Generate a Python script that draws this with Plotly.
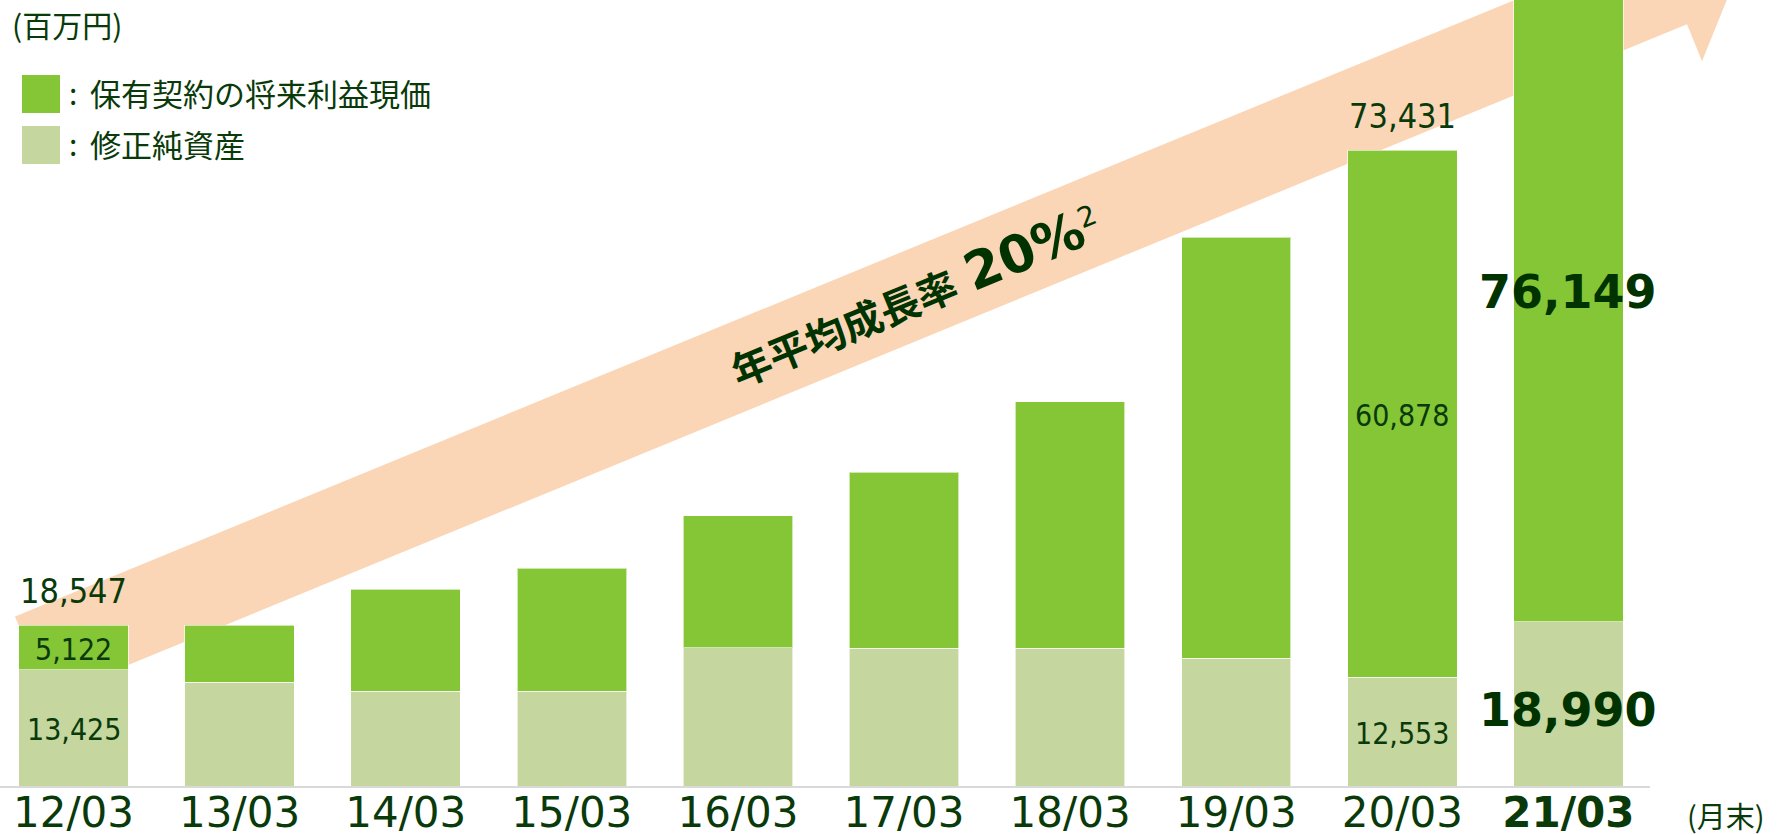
import plotly.graph_objects as go

# data (百万円)
categories = ["12/03", "13/03", "14/03", "15/03", "16/03", "17/03", "18/03", "19/03", "20/03", "21/03"]
net_assets = [13425, 12010, 10970, 10970, 15990, 15940, 15940, 14780, 12553, 18990]   # 修正純資産
vif_value = [5122, 6580, 11780, 14200, 15250, 20320, 28460, 48620, 60878, 76149]      # 保有契約の将来利益現価
labeled = ["12/03", "20/03"]
highlight = "21/03"

legend_names = ["保有契約の将来利益現価", "修正純資産"]
unit_label = "(百万円)"
period_label = "(月末)"
growth_text = "年平均成長率"
growth_rate = "20%"

GREEN = "#84C636"
LIGHT = "#C5D69E"
PEACH = "#FBD6B6"
TEXT = "#0A3A0A"
BOLD = "#003300"

W, H = 1787, 835
PLOT_W, PLOT_H = 1650, 786
FONT = "DejaVu Sans, Noto Sans CJK JP, sans-serif"
NUM_FONT = "DejaVu Sans Condensed, DejaVu Sans, sans-serif"
JP_FONT = "Noto Sans CJK JP, sans-serif"


def paper(px, py):
    """pixel position (from top-left) -> paper coords of the plot area"""
    return px / PLOT_W, (PLOT_H - py) / PLOT_H


fig = go.Figure()
fig.add_trace(go.Bar(x=categories, y=net_assets, name=legend_names[1],
                     marker=dict(color=LIGHT, line=dict(color="rgba(255,255,255,0.6)", width=1))))
fig.add_trace(go.Bar(x=categories, y=vif_value, name=legend_names[0],
                     marker=dict(color=GREEN, line=dict(color="rgba(255,255,255,0.6)", width=1))))

# growth arrow behind the bars
pts = [(15, 616.5), (1653.6, -57.1), (1638.5, -94.1), (1746, -47.5),
       (1702, 61.3), (1687, 24.3), (48, 698)]
path = ""
for i, (px, py) in enumerate(pts):
    x, y = paper(px, py)
    path += ("M" if i == 0 else "L") + f"{x:.5f},{y:.5f} "
path += "Z"
shapes = [dict(type="path", path=path, xref="paper", yref="paper",
               fillcolor=PEACH, line=dict(width=0), layer="below")]

annotations = []

# legend
for i, (name, col) in enumerate(zip(legend_names, [GREEN, LIGHT])):
    top = 75 + i * 51
    x0, y0 = paper(22, top + 38)
    x1, y1 = paper(60, top)
    shapes.append(dict(type="rect", xref="paper", yref="paper", x0=x0, y0=y0, x1=x1, y1=y1,
                       fillcolor=col, line=dict(width=0)))
    cx, cy = paper(67, top + 17)
    annotations.append(dict(text=":", x=cx, y=cy, xref="paper", yref="paper", xanchor="left",
                            yanchor="middle", showarrow=False, font=dict(family=JP_FONT, size=30, color=TEXT)))
    tx, ty = paper(88, top + 17)
    annotations.append(dict(text=name, x=tx, y=ty, xref="paper", yref="paper", xanchor="left",
                            yanchor="middle", showarrow=False, font=dict(family=JP_FONT, size=31, color=TEXT)))

ux, uy = paper(10, 24)
annotations.append(dict(text=unit_label, x=ux, y=uy, xref="paper", yref="paper", xanchor="left",
                        yanchor="middle", showarrow=False, font=dict(family=JP_FONT, size=30, color=TEXT)))
mx, my = paper(1726, 815)
annotations.append(dict(text=period_label, x=mx, y=my, xref="paper", yref="paper", xanchor="center",
                        yanchor="middle", showarrow=False, font=dict(family=JP_FONT, size=29, color=TEXT)))

# growth text on the arrow
gx, gy = paper(915, 296)
annotations.append(dict(
    text=f"<b>{growth_text} <span style='font-size:52px'>{growth_rate}</span></b><sup>2</sup>",
    x=gx, y=gy, xref="paper", yref="paper", xanchor="center", yanchor="middle",
    showarrow=False, textangle=-22.3, font=dict(family=FONT, size=40, color=BOLD)))

# value labels
for i, c in enumerate(categories):
    lo, up = net_assets[i], vif_value[i]
    if c in labeled:
        annotations.append(dict(text=f"{lo + up:,}", x=c, y=lo + up, yshift=34, showarrow=False,
                                font=dict(family=NUM_FONT, size=34, color=TEXT)))
        annotations.append(dict(text=f"{up:,}", x=c, y=lo + up / 2, yshift=-2, showarrow=False,
                                font=dict(family=NUM_FONT, size=30, color=TEXT)))
        annotations.append(dict(text=f"{lo:,}", x=c, y=lo / 2, yshift=-2, showarrow=False,
                                font=dict(family=NUM_FONT, size=30, color=TEXT)))
    elif c == highlight:
        annotations.append(dict(text=f"<b>{up:,}</b>", x=c, y=lo + up / 2, showarrow=False,
                                font=dict(family=FONT, size=46, color=BOLD)))
        annotations.append(dict(text=f"<b>{lo:,}</b>", x=c, y=lo / 2, yshift=-6, showarrow=False,
                                font=dict(family=FONT, size=46, color=BOLD)))

ticktext = [f"<b>{c}</b>" if c == highlight else c for c in categories]

fig.update_layout(
    width=W, height=H,
    margin=dict(l=0, r=W - PLOT_W, t=0, b=H - PLOT_H),
    barmode="stack", bargap=0.341,
    plot_bgcolor="white", paper_bgcolor="white",
    showlegend=False,
    shapes=shapes, annotations=annotations,
    xaxis=dict(range=[-0.4425, 9.491], showline=True, linecolor="#D9D9D9", linewidth=2,
               ticks="", tickmode="array", tickvals=categories, ticktext=ticktext,
               tickfont=dict(family=FONT, size=42, color=TEXT), ticklabelstandoff=-11,
               automargin=False, showgrid=False),
    yaxis=dict(range=[0, 90800], visible=False, showgrid=False, zeroline=False),
)

# drop the browser's default body margin so the figure fills the window
fig.write_html("out.html", config={"displayModeBar": False},
               post_script="document.body.style.margin='0';document.body.style.overflow='hidden';")
